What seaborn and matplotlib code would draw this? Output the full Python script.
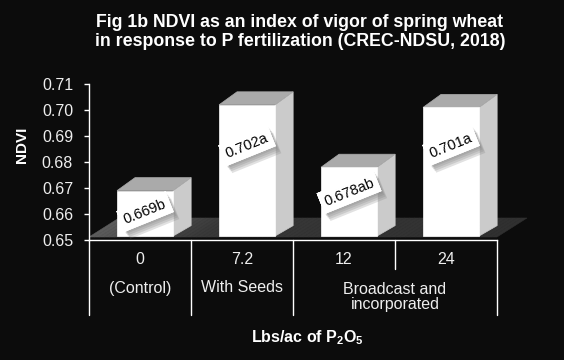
import numpy as np
import matplotlib
matplotlib.use("Agg")
import matplotlib.pyplot as plt
import matplotlib.patches as patches
import matplotlib.patheffects as path_effects
import seaborn as sns

# ------------------------------------------------------------
# Data
# ------------------------------------------------------------
RATES = ["0", "7.2", "12", "24"]
NDVI = [0.669, 0.702, 0.678, 0.701]
LETTERS = ["b", "a", "ab", "a"]
GROUPS = ["(Control)", "With Seeds", "Broadcast and\nincorporated"]
GROUP_CENTERS = [0, 1, 2.5]
Y_TICKS = [0.65, 0.66, 0.67, 0.68, 0.69, 0.70, 0.71]

# ------------------------------------------------------------
# Style / geometry (pixels of the 564x360 canvas)
# ------------------------------------------------------------
BG = "#0c0c0c"
W, H = 564, 360
AX_L, AX_R, AX_T, AX_B = 89, 497, 84, 240
PX_X = (AX_R - AX_L) / 4.0          # px per category
PX_Y = (AX_B - AX_T) / 0.06         # px per NDVI unit

BAR_W = 0.55
BAR_SHIFT = 0.05
BASE = 0.65 + 4 / PX_Y
DX, DY = 18 / PX_X, 13 / PX_Y        # bar depth
FDX = 30 / PX_X                      # floor depth
FLOOR_FRONT = 0.65 + 3 / PX_Y
FLOOR_BACK = 0.65 + 22 / PX_Y
LABEL_DROP_PX = [21, 41, 25, 38]

sns.set_theme(style="ticks")
plt.rcParams["font.family"] = ["Liberation Sans", "DejaVu Sans"]
plt.rcParams["mathtext.default"] = "regular"

fig = plt.figure(figsize=(W / 100, H / 100), dpi=100, facecolor=BG)
ax = fig.add_axes([AX_L / W, 1 - AX_B / H, (AX_R - AX_L) / W, (AX_B - AX_T) / H])
ax.set_facecolor(BG)

# floor with a soft left-to-right gradient
n_strips = 80
edges = np.linspace(-0.5, 3.5, n_strips + 1)
for a, b in zip(edges[:-1], edges[1:]):
    g = np.interp((a + b) / 2, [-0.5, 0.6, 3.5], [0x5c, 0x38, 0x30]) / 255.0
    poly = patches.Polygon(
        [(a, FLOOR_FRONT), (b, FLOOR_FRONT), (b + FDX, FLOOR_BACK), (a + FDX, FLOOR_BACK)],
        closed=True, facecolor=(g, g, g), edgecolor=(g, g, g), lw=0.4,
        clip_on=False, zorder=1
    )
    ax.add_patch(poly)

sns.barplot(
    x=RATES, y=NDVI, order=RATES, color="white", saturation=1,
    width=BAR_W, errorbar=None, linewidth=0, ax=ax
)

# soft drop shadow for the value boxes
shadow = [
    path_effects.withSimplePatchShadow(offset=(1.0 + k, -1.5 - 1.2 * k),
                                       shadow_rgbFace="#777777", alpha=0.22)
    for k in range(4)
] + [path_effects.Normal()]

for i, p in enumerate(ax.patches[n_strips:]):
    x0 = p.get_x() + BAR_SHIFT
    top = p.get_height()
    p.set_x(x0)
    p.set_y(BASE)
    p.set_height(top - BASE)
    p.set_facecolor("white")
    p.set_edgecolor("white")
    p.set_linewidth(0.5)
    p.set_zorder(3)
    p.set_clip_on(False)
    x1 = x0 + p.get_width()

    side = patches.Polygon(
        [(x1, BASE), (x1 + DX, BASE + DY * 0.8), (x1 + DX, top + DY), (x1, top)],
        closed=True, facecolor="#cbcbcb", edgecolor="#cbcbcb", lw=0.5,
        zorder=2.9, clip_on=False
    )
    cap = patches.Polygon(
        [(x0, top), (x0 + DX, top + DY), (x1 + DX, top + DY), (x1, top)],
        closed=True, facecolor="#aaaaaa", edgecolor="#aaaaaa", lw=0.5,
        zorder=2.9, clip_on=False
    )
    ax.add_patch(side)
    ax.add_patch(cap)

    txt = ax.text(
        x0 + p.get_width() / 2, top - LABEL_DROP_PX[i] / PX_Y,
        f"{NDVI[i]:.3f}{LETTERS[i]}",
        rotation=22, rotation_mode="anchor", ha="center", va="center",
        fontsize=10.5, color="black", zorder=6,
        bbox=dict(boxstyle="square,pad=0.28", facecolor="white", edgecolor="none")
    )
    txt.get_bbox_patch().set_path_effects(shadow)

ax.set_xlim(-0.5, 3.5)
ax.set_ylim(0.65, 0.71)
ax.set_yticks(Y_TICKS)
ax.set_yticklabels([f"{v:.2f}" for v in Y_TICKS])
ax.tick_params(axis="y", colors="white", labelcolor="#eeeeee", labelsize=11.5,
               length=3.5, width=1, pad=8)
ax.set_xticks(range(len(RATES)))
ax.set_xticklabels(RATES)
ax.tick_params(axis="x", length=0, labelcolor="#eeeeee", labelsize=11.5, pad=9)
ax.set_xlabel("")
ax.set_ylabel("")
ax.grid(False)

for s in ["top", "right"]:
    ax.spines[s].set_visible(False)
for s in ["left", "bottom"]:
    ax.spines[s].set_color("white")
    ax.spines[s].set_linewidth(1)
    ax.spines[s].set_zorder(4)

# category dividers below the axis
trans = ax.get_xaxis_transform()
long_drop = -(315 - AX_B) / (AX_B - AX_T)
short_drop = -(269 - AX_B) / (AX_B - AX_T)
for xd in [-0.5, 0.5, 1.5, 3.5]:
    ax.plot([xd, xd], [0, long_drop], color="white", lw=1, transform=trans, clip_on=False)
ax.plot([2.5, 2.5], [0, short_drop], color="white", lw=1, transform=trans, clip_on=False)

for label, xc in zip(GROUPS, GROUP_CENTERS):
    ypx = 297 if "\n" in label else 288
    ax.text(xc, -(ypx - AX_B) / (AX_B - AX_T), label, transform=trans,
            ha="center", va="center", fontsize=11.5, color="#eeeeee", linespacing=1.05)

fig.text(307 / W, 1 - 338 / H, r"Lbs/ac of P$_2$O$_5$", ha="center", va="center",
         fontsize=11.5, fontweight="bold", color="white")
fig.text(22 / W, 1 - 145 / H, "NDVI", rotation=90, ha="center", va="center",
         fontsize=11, fontweight="bold", color="white")
fig.text(300 / W, 1 - 32 / H,
         "Fig 1b NDVI as an index of vigor of spring wheat\n"
         "in response to P fertilization (CREC-NDSU, 2018)",
         ha="center", va="center", fontsize=12.8, fontweight="bold",
         color="white", linespacing=1.2)

fig.savefig("out.png", dpi=100, facecolor=BG)
